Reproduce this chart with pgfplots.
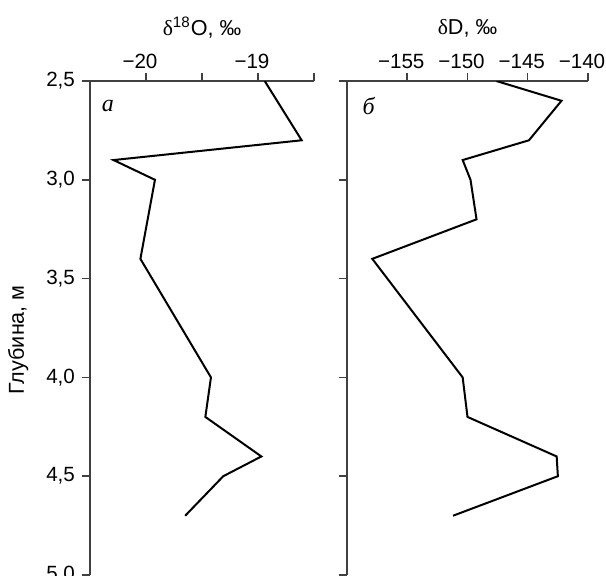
\documentclass[border=0pt]{standalone}
\usepackage{pgfplots}
\pgfplotsset{compat=1.18}
\usepackage{fontspec}
\setmainfont{Liberation Sans}
\newfontfamily\serifgr{Liberation Serif}
\newcommand{\mn}{\llap{−}}
\begin{document}
\begin{tikzpicture}
\pgfplotsset{
  prof/.style={
    scale only axis,
    height=247pt,
    y dir=reverse,
    ymin=2.5, ymax=5.0,
    axis x line*=top,
    axis y line*=left,
    tick align=outside,
    major tick length=4pt,
    axis line style={black!75, line width=0.75pt},
    every tick/.style={black!75, line width=0.75pt},
    ytick={2.5,3,3.5,4,4.5,5},
    tick label style={font=\fontsize{10.3}{12}\selectfont},
    xticklabel style={yshift=-1.5pt},
    label style={font=\fontsize{10.8}{12}\selectfont},
    xlabel style={at={(axis description cs:0.5,1)}, anchor=center, yshift=26.5pt},
  },
  prof line/.style={black, no marks, line width=1pt, line join=miter},
}
\begin{axis}[prof, name=L, at={(0,0)}, anchor=south west,
    width=112pt,
    xmin=-20.5, xmax=-18.5,
    xtick={-20,-19.5,-19,-18.5},
    xticklabels={\mn 20,,\mn 19,},
    yticklabels={{2,5},{3,0},{3,5},{4,0},{4,5},{5,0}},
    xlabel={{\serifgr δ}\textsuperscript{18}O, ‰},
    ylabel={Глубина, м},
    ylabel style={at={(axis description cs:-0.32,0.476)}, anchor=center},
]
\addplot[prof line] coordinates {
  (-18.94,2.5) (-18.61,2.8) (-20.29,2.9) (-19.92,3.0) (-20.05,3.4)
  (-19.42,4.0) (-19.47,4.2) (-18.97,4.4) (-19.31,4.5) (-19.65,4.7)
};
\node[font=\serifgr\itshape\fontsize{12}{12}\selectfont] at (axis description cs:0.08,0.95) {а};
\end{axis}
\begin{axis}[prof, name=R, at={(128.5pt,0)}, anchor=south west,
    width=120.5pt,
    xmin=-160, xmax=-140,
    xtick={-155,-150,-145,-140},
    xticklabels={\mn 155,\mn 150,\mn 145,\mn 140},
    yticklabels={},
    xlabel={{\serifgr δ}D, ‰},
]
\addplot[prof line] coordinates {
  (-147.6,2.5) (-142.2,2.6) (-144.9,2.8) (-150.4,2.9) (-149.75,3.0)
  (-149.25,3.2) (-157.9,3.4) (-150.4,4.0) (-150.0,4.2) (-142.6,4.4)
  (-142.5,4.5) (-151.2,4.7)
};
\node[font=\serifgr\itshape\fontsize{12}{12}\selectfont] at (axis description cs:0.09,0.95) {б};
\end{axis}
\pgfresetboundingbox
\path (-45pt,0) rectangle (258pt,287.5pt);
\end{tikzpicture}
\end{document}
